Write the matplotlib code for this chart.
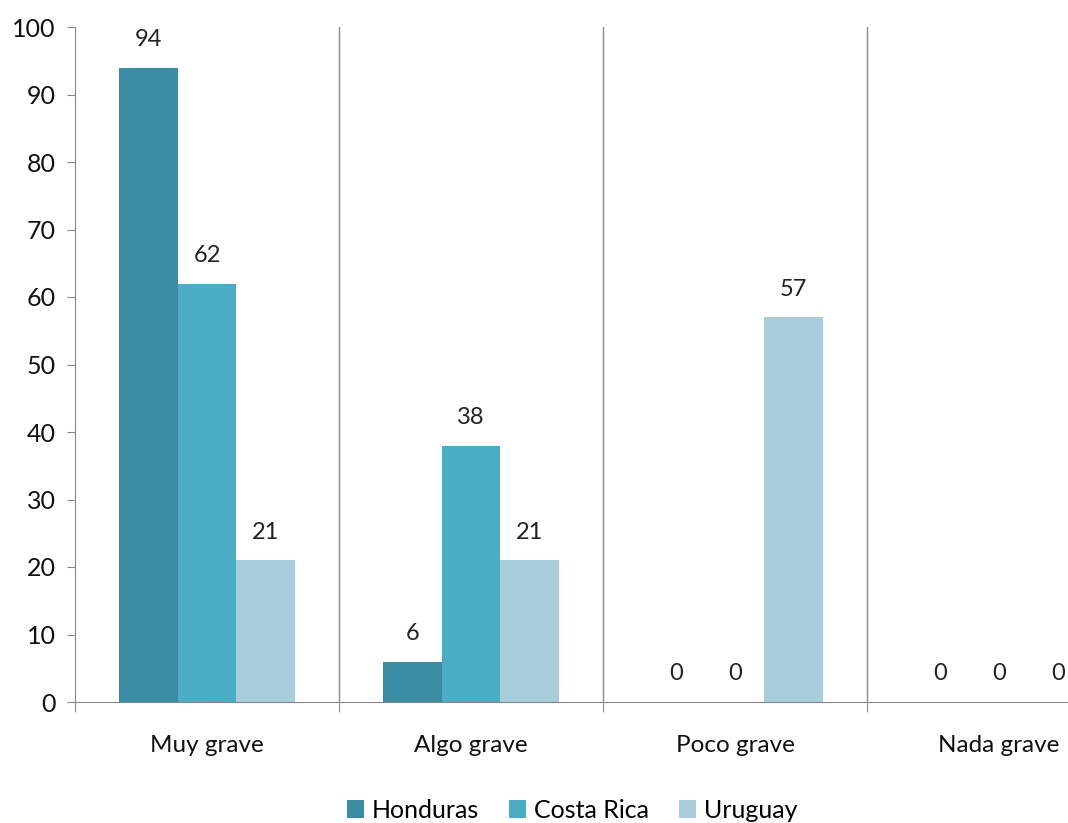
import numpy as np
import matplotlib.pyplot as plt
from matplotlib.patches import Patch

plt.rcParams['font.family'] = ['Lato', 'DejaVu Sans']

categories = ['Muy grave', 'Algo grave', 'Poco grave', 'Nada grave']
countries = ['Honduras', 'Costa Rica', 'Uruguay']
honduras = [94, 6, 0, 0]
costa_rica = [62, 38, 0, 0]
uruguay = [21, 21, 57, 0]
colors = ['#3A8CA3', '#4BACC6', '#A8CEDC']

series = [honduras, costa_rica, uruguay]

fig = plt.figure(figsize=(10.68, 8.23), dpi=100)
# the last category runs past the right edge of the figure
ax = fig.add_axes([75 / 1068, 121 / 823, 1056 / 1068, 675 / 823])

x = np.arange(len(categories))
w = 0.223
for i, (vals, c) in enumerate(zip(series, colors)):
    pos = x + (i - 1) * w
    ax.bar(pos, vals, width=w, color=c, zorder=2)
    for px, v in zip(pos, vals):
        ax.text(px, v + 2.6, f'{v}', ha='center', va='bottom', fontsize=17, color='#222222')

ax.set_xlim(-0.5, len(categories) - 0.5)
ax.set_ylim(0, 100)
ax.set_yticks(np.arange(0, 101, 10))
ax.tick_params(axis='y', labelsize=18, length=6, color='#888888', labelcolor='#111111', pad=8)

# category separators
for b in np.arange(0.5, len(categories) - 0.5, 1):
    ax.axvline(b, color='#8c8c8c', lw=1, zorder=1)
ax.set_xticks(np.arange(-0.5, len(categories), 1))
ax.set_xticklabels([])
ax.tick_params(axis='x', length=7, color='#888888')
for xi, lab in zip(x, categories):
    ax.text(xi, -6.4, lab, ha='center', va='center', fontsize=17.5, color='#111111')

for s in ['top', 'right']:
    ax.spines[s].set_visible(False)
ax.spines['left'].set_color('#888888')
ax.spines['bottom'].set_color('#888888')

handles = [Patch(facecolor=c, label=n) for c, n in zip(colors, countries)]
fig.legend(handles=handles, loc='lower center', bbox_to_anchor=(572 / 1068, 0), ncol=3,
           frameon=False, fontsize=18, handlelength=0.7, handleheight=0.7,
           handletextpad=0.3, columnspacing=1.2, borderaxespad=0, borderpad=0.05)

fig.savefig('out.png', dpi=100)
